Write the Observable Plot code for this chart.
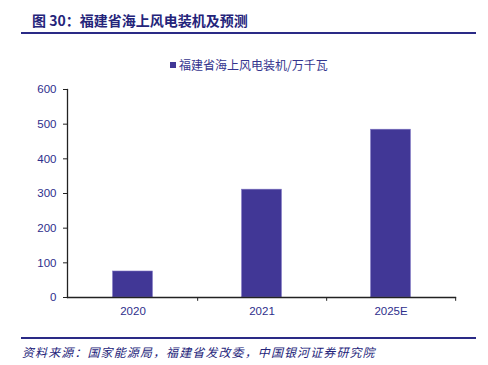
<!DOCTYPE html>
<html><head><meta charset="utf-8">
<script src="https://cdn.jsdelivr.net/npm/d3@7"></script>
<script src="https://cdn.jsdelivr.net/npm/@observablehq/plot@0.6"></script>
<style>
body{margin:0;background:#fff;width:488px;height:365px;position:relative;overflow:hidden;font-family:"Noto Sans CJK SC",sans-serif;}
#title{position:absolute;left:32px;top:10px;font-size:14px;font-weight:bold;color:#24247a;white-space:nowrap;}
#rule1{position:absolute;left:21px;top:32px;width:455px;height:2px;background:#2a2a86;}
#legend{position:absolute;left:170px;top:56px;font-size:12px;color:#34348e;white-space:nowrap;}
#legend span.sw{display:inline-block;width:6px;height:6px;background:#413796;margin-right:3px;vertical-align:2px;}
#chart{position:absolute;left:0;top:75px;}
#rule2{position:absolute;left:21px;top:337px;width:455px;height:2px;background:#2a2a86;}
#source{position:absolute;left:22px;top:343px;font-size:12px;font-style:italic;color:#24247a;white-space:nowrap;letter-spacing:1.1px;}
</style></head>
<body>
<div id="title">图 30：福建省海上风电装机及预测</div>
<div id="rule1"></div>
<div id="legend"><span class="sw"></span>福建省海上风电装机/万千瓦</div>
<div id="chart"></div>
<div id="rule2"></div>
<div id="source">资料来源：国家能源局，福建省发改委，中国银河证券研究院</div>
<script>
const categories = ["2020", "2021", "2025E"];
const values = [75, 311, 484];
const yTicks = [0, 100, 200, 300, 400, 500, 600];

const data = categories.map((c, i) => ({year: c, value: values[i]}));
const W = 488, H = 250, mL = 67, mR = 33;
const band = (W - mL - mR) / categories.length;

const chart = Plot.plot({
  width: W, height: H,
  marginLeft: mL, marginRight: mR, marginTop: 14, marginBottom: 28,
  style: {fontFamily: "'Liberation Sans', Arial, sans-serif", fontSize: "11.5px", color: "#2e2e8c", background: "transparent"},
  x: {domain: categories, padding: 0, label: null},
  y: {domain: [0, 600], label: null},
  marks: [
    Plot.barY(data, {x: "year", y: "value", fill: "#413796", insetLeft: band * 0.345, insetRight: band * 0.345, stroke: "#7a70c0", strokeWidth: 0.6}),
    Plot.axisY({ticks: yTicks, tickSize: 4, tickPadding: 7, stroke: "#222", fill: "#2e2e8c", fontSize: 11.5}),
    Plot.axisX({tickSize: 0, tickPadding: 9, fill: "#2e2e8c", fontSize: 11.5}),
    Plot.ruleX(categories, {x: d => d, dx: band / 2, y1: 0, y2: -11, stroke: "#222", strokeWidth: 1}),
    Plot.frame({anchor: "left", stroke: "#222", strokeWidth: 1.3}),
    Plot.frame({anchor: "bottom", stroke: "#222", strokeWidth: 1.3})
  ]
});
document.getElementById("chart").appendChild(chart);
</script>
</body></html>
